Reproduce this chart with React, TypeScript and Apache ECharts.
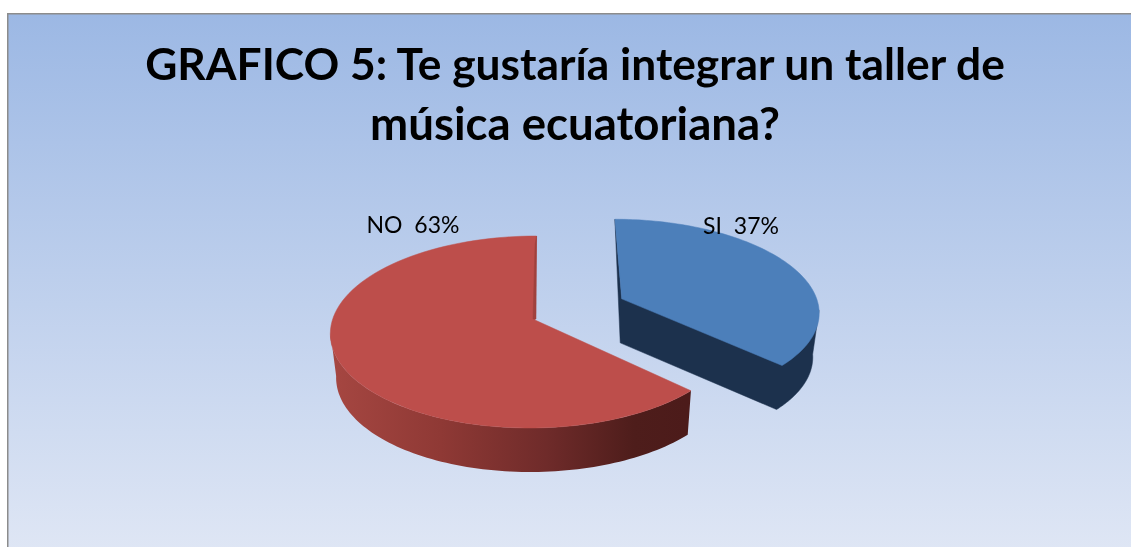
import React, { useEffect, useRef } from "react";
import * as echarts from "echarts";

const categories = ["SI", "NO"];
const values = [37, 63];
const titleLines = ["GRAFICO 5: Te gustaría integrar un taller de", "música ecuatoriana?"];

const W = 1131, H = 547;
const VX = 562, AX = 535, AY = 320, R = 201, RY = 94.5, P = 0.125, DEPTH = 44, BOTTOM_SCALE = 0.975;
const OFFSETS = [[0.44, -0.23], [0, 0]];
const RIM_SHIFT = [-0.002, -0.008];
const TOPS = ["#4C7FBA", "#BD4E4B"];
const LABEL_POS = [[741, 225], [413, 224]];
const TITLE_FONT = ["bold 44.3px Lato", "bold 45.6px Lato"];

function project(u: number, v: number): [number, number] {
  const w = 1 - P * v;
  return [VX + (AX - VX + R * u) / w, AY + (RY * v) / w];
}
function bottom(p: [number, number]): [number, number] {
  return [VX + (p[0] - VX) * BOTTOM_SCALE, p[1] + DEPTH];
}
function rim(i: number, a0: number, a1: number, n = 90): [number, number][] {
  const [ox, oy] = OFFSETS[i];
  const pts: [number, number][] = [];
  for (let k = 0; k <= n; k++) {
    const a = a0 + ((a1 - a0) * k) / n;
    pts.push(project(ox + RIM_SHIFT[i] + Math.sin(a), oy - Math.cos(a)));
  }
  return pts;
}

function App() {
  const ref = useRef<HTMLDivElement>(null);
  useEffect(() => {
    const chart = echarts.init(ref.current!, null, { renderer: "svg" });
    const total = values.reduce((a, b) => a + b, 0);
    const redWall = new echarts.graphic.LinearGradient(335, 0, 687, 0, [
      { offset: 0, color: "#A54641" },
      { offset: 0.3, color: "#8F3935" },
      { offset: 0.6, color: "#6F2B2A" },
      { offset: 0.85, color: "#4E1D1B" },
      { offset: 1, color: "#4C1B1A" },
    ], true);
    const renderItem = (params: any) => {
      const i = params.dataIndex;
      const before = values.slice(0, i).reduce((a, b) => a + b, 0);
      const a0 = (before / total) * Math.PI * 2;
      const a1 = ((before + values[i]) / total) * Math.PI * 2;
      const [ox, oy] = OFFSETS[i];
      const apex = project(ox, oy);
      const top = rim(i, a0, a1);
      const children: any[] = [];
      const poly = (points: [number, number][], fill: any) => ({
        type: "polygon", shape: { points }, style: { fill, stroke: fill === redWall ? "none" : fill, lineWidth: 0.5 }, silent: true,
      });
      if (i === 0) {
        const wall = rim(i, Math.PI * 0.54, a1);
        const back = wall.slice().reverse();
        children.push(poly([top[0], bottom(apex), ...back.map(bottom), wall[0], apex], "#1C314D"));
      } else {
        const wall = rim(i, a0, Math.PI * 1.46);
        children.push(poly([...wall, ...wall.slice().reverse().map(bottom)], redWall));
      }
      children.push(poly([apex, ...top], TOPS[i]));
      if (i === 1) {
        const s = top[top.length - 1];
        children.push(poly([s, [apex[0] + 1, apex[1] - 1], [apex[0] - 2, apex[1] - 1], [s[0] - 1.5, s[1] + 8]], "#A0423E"));
      }
      return { type: "group", children };
    };
    chart.setOption({
      animation: false,
      graphic: [
        { type: "rect", z: -10, shape: { x: 8, y: 14, width: W, height: H }, style: {
          fill: new echarts.graphic.LinearGradient(0, 0, 0, 1, [
            { offset: 0, color: "#9CB8E4" },
            { offset: 1, color: "#E0E7F5" },
          ]), stroke: "none" } },
        { type: "rect", z: -9, shape: { x: 7, y: 13, width: W, height: 1.5 }, style: { fill: "#8C8C8C" } },
        { type: "rect", z: -9, shape: { x: 7, y: 13, width: 1.5, height: H }, style: { fill: "#8C8C8C" } },
        ...titleLines.map((t, k) => ({
          type: "text", z: 10, x: 575, y: 62 + k * 60,
          style: { text: t, fill: "#000", font: TITLE_FONT[k], align: "center", verticalAlign: "middle" },
        })),
        ...categories.map((c, k) => ({
          type: "text", z: 10, x: LABEL_POS[k][0], y: LABEL_POS[k][1],
          style: { text: `${c}  ${values[k]}%`, fill: "#000", font: "23px Lato", align: "center", verticalAlign: "middle" },
        })),
      ],
      series: [{
        type: "custom",
        coordinateSystem: "none",
        renderItem,
        data: categories.map((name, k) => ({ name, value: values[k] })),
      }],
    });
    return () => chart.dispose();
  }, []);
  return <div ref={ref} style={{ position: "fixed", left: 0, top: 0, width: W, height: H }} />;
}

export default App;
